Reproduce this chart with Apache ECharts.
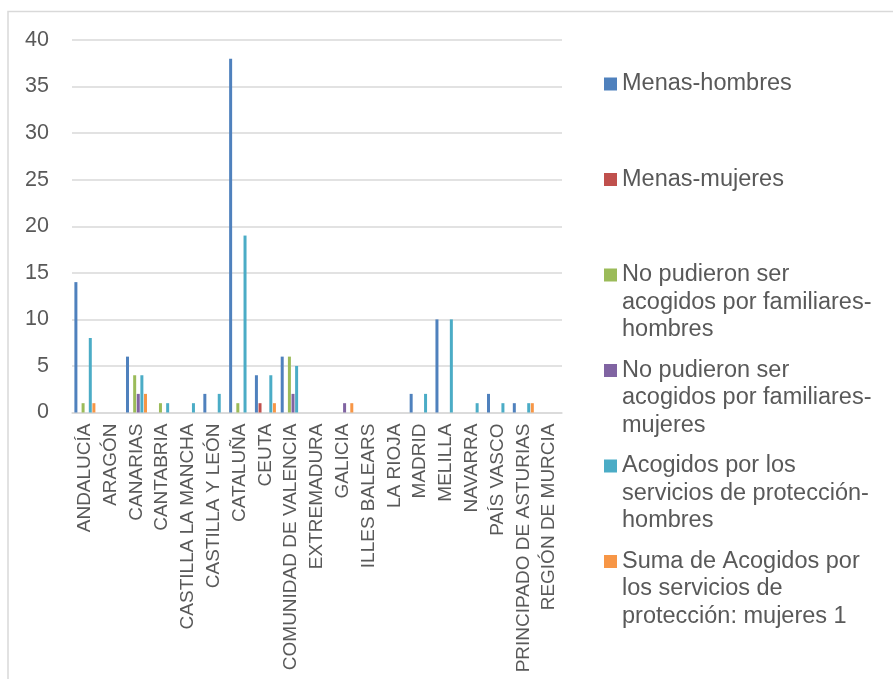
<!DOCTYPE html>
<html>
<head>
<meta charset="utf-8">
<script src="https://cdn.jsdelivr.net/npm/echarts@6/dist/echarts.min.js"></script>
<style>
html,body{margin:0;padding:0;background:#fff;}
#chart{width:893px;height:679px;}
</style>
</head>
<body>
<div id="chart"></div>
<script>
// ---- data ----
const categories = ["ANDALUCÍA","ARAGÓN","CANARIAS","CANTABRIA","CASTILLA LA MANCHA","CASTILLA Y LEÓN","CATALUÑA","CEUTA","COMUNIDAD DE VALENCIA","EXTREMADURA","GALICIA","ILLES BALEARS","LA RIOJA","MADRID","MELILLA","NAVARRA","PAÍS VASCO","PRINCIPADO DE ASTURIAS","REGIÓN DE MURCIA"];
const menasHombres      = [14,0,6,0,0,2,38,4,6,0,0,0,0,2,10,0,2,1,0];
const menasMujeres      = [0,0,0,0,0,0,0,1,0,0,0,0,0,0,0,0,0,0,0];
const noFamHombres      = [1,0,4,1,0,0,1,0,6,0,0,0,0,0,0,0,0,0,0];
const noFamMujeres      = [0,0,2,0,0,0,0,0,2,0,1,0,0,0,0,0,0,0,0];
const acogHombres       = [8,0,4,1,1,2,19,4,5,0,0,0,0,2,10,1,1,1,0];
const acogMujeres       = [1,0,2,0,0,0,0,1,0,0,1,0,0,0,0,0,0,1,0];
const yTicks = [0,5,10,15,20,25,30,35,40];

const seriesNames = [
  "Menas-hombres",
  "Menas-mujeres",
  "No pudieron ser acogidos por familiares-hombres",
  "No pudieron ser acogidos por familiares-mujeres",
  "Acogidos por los servicios de protección-hombres",
  "Suma de Acogidos por los servicios de protección: mujeres 1"
];
const legendLines = [
  ["Menas-hombres"],
  ["Menas-mujeres"],
  ["No pudieron ser","acogidos por familiares-","hombres"],
  ["No pudieron ser","acogidos por familiares-","mujeres"],
  ["Acogidos por los","servicios de protección-","hombres"],
  ["Suma de Acogidos por","los servicios de","protección: mujeres 1"]
];
const seriesData = [menasHombres, menasMujeres, noFamHombres, noFamMujeres, acogHombres, acogMujeres];

// ---- styles ----
const colors = ["#4F81BD","#C0504D","#9BBB59","#8064A2","#4BACC6","#F79646"];
const textColor = "#595959";
const gridColor = "#D9D9D9";
const fontFam = "'Liberation Sans', Arial, sans-serif";
const legendFont = 23.5;
const legendLineH = 27.5;
const legendFirstY = 84;
const legendStep = 95.5;
const legendLeft = 604;

const chart = echarts.init(document.getElementById('chart'), null, {renderer:'canvas'});

const legends = seriesNames.map((n,i)=>({
  data:[n],
  orient:'vertical',
  left: legendLeft,
  top: legendFirstY + i*legendStep - 14,
  padding: 0,
  itemWidth: 13,
  itemHeight: 13,
  icon: 'rect',
  selectedMode: false,
  formatter: () => legendLines[i][0],
  textStyle: {color:textColor, fontSize:legendFont, fontFamily:fontFam, lineHeight:28}
}));

const graphics = [
  {type:'polyline', silent:true, shape:{points:[[8,1000],[8,11.5],[900,11.5]]}, style:{stroke:gridColor, lineWidth:1.5, fill:null}}
];
legendLines.forEach((lines,i)=>{
  for (let k=1;k<lines.length;k++){
    graphics.push({
      type:'text', silent:true,
      x: legendLeft + 13 + 5,
      y: legendFirstY + i*legendStep + k*legendLineH,
      style:{text:lines[k], fill:textColor, font: legendFont + "px " + fontFam, verticalAlign:'middle', align:'left'}
    });
  }
});

chart.setOption({
  animation:false,
  color: colors,
  grid:{left:72, right:331, top:40, bottom:266.5, containLabel:false},
  legend: legends,
  graphic: graphics,
  xAxis:{
    type:'category',
    data:categories,
    axisTick:{show:false},
    axisLine:{lineStyle:{color:gridColor, width:1.5}},
    axisLabel:{rotate:90, interval:0, margin:11, color:textColor, fontSize:19, fontFamily:fontFam}
  },
  yAxis:{
    type:'value',
    min: yTicks[0], max: yTicks[yTicks.length-1], interval: yTicks[1]-yTicks[0],
    axisLine:{show:false}, axisTick:{show:false},
    splitLine:{lineStyle:{color:gridColor, width:1.5}},
    axisLabel:{margin:23, color:textColor, fontSize:21.5, fontFamily:fontFam}
  },
  series: seriesNames.map((n,i)=>({
    name:n, type:'bar', data:seriesData[i],
    barWidth:3, barGap:'20%',
    itemStyle:{color:colors[i]}
  }))
});
</script>
</body>
</html>
